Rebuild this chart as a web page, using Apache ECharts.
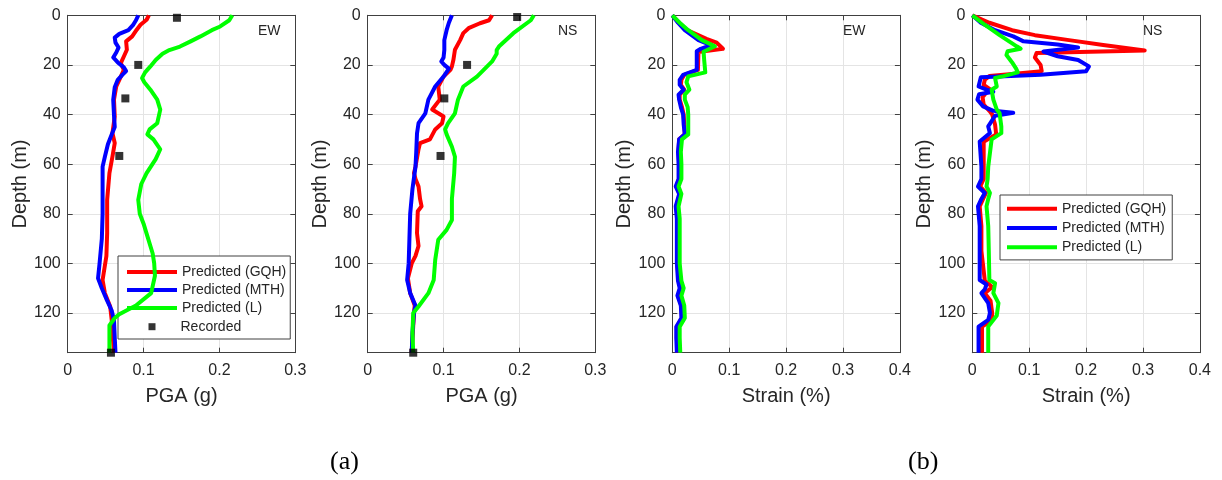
<!DOCTYPE html>
<html>
<head>
<meta charset="utf-8">
<script src="https://cdn.jsdelivr.net/npm/echarts@6/dist/echarts.min.js"></script>
<style>
  html, body { margin: 0; padding: 0; background: #fff; }
  #chart { width: 1222px; height: 480px; }
</style>
</head>
<body>
<div id="chart"></div>
<script>
// Depth profiles: each point is [value, depth (m)]

// PGA (g), EW component
const ewPgaGQH = [[0.107,0],[0.104,1.8],[0.096,3.8],[0.091,5.8],[0.085,8.5],[0.077,10.5],[0.078,13.9],[0.074,16.6],[0.070,19.3],[0.074,22],[0.070,24.7],[0.064,28.7],[0.061,34],[0.062,40.8],[0.059,47.5],[0.062,51.5],[0.059,56.9],[0.055,63.6],[0.052,74.4],[0.052,87.8],[0.051,97],[0.046,106.7],[0.049,112],[0.056,117.4],[0.058,122.8],[0.059,128],[0.061,136]];
const ewPgaMTH = [[0.093,0],[0.090,2],[0.086,4],[0.080,6],[0.068,7.5],[0.062,9],[0.063,11],[0.067,13],[0.064,15],[0.060,17],[0.066,19],[0.074,21],[0.077,22.5],[0.072,24],[0.066,26],[0.062,29],[0.060,34],[0.061,40],[0.062,45],[0.058,48],[0.053,52],[0.049,57],[0.046,61],[0.046,70],[0.046,80],[0.045,90],[0.042,100],[0.040,106],[0.045,110],[0.052,115],[0.058,119],[0.061,123],[0.062,130],[0.063,136]];
const ewPgaL = [[0.217,0],[0.213,2],[0.201,4.5],[0.190,6],[0.175,8.5],[0.162,10.5],[0.148,12.6],[0.134,14],[0.125,15.5],[0.116,18],[0.109,20.6],[0.102,23],[0.098,25.3],[0.101,27],[0.109,30],[0.118,34],[0.122,38],[0.118,43.5],[0.108,46],[0.105,48],[0.113,50],[0.122,54],[0.116,58],[0.104,63.6],[0.097,68],[0.093,74.4],[0.095,80],[0.100,84],[0.104,88],[0.112,96],[0.114,100],[0.115,105],[0.110,112],[0.090,117],[0.068,120.5],[0.062,122],[0.055,125],[0.055,136]];
const ewPgaRec = [[0.144,1],[0.093,20],[0.076,33.5],[0.068,56.7],[0.057,136]];

// PGA (g), NS component
const nsPgaGQH = [[0.164,0],[0.160,2],[0.148,3.2],[0.133,5.2],[0.126,7.2],[0.122,9.9],[0.115,13.9],[0.113,17.9],[0.111,20.6],[0.109,22],[0.100,24.7],[0.093,28.7],[0.095,34],[0.085,38],[0.100,40.8],[0.098,43.5],[0.089,46],[0.082,50],[0.069,51.5],[0.067,54],[0.063,61],[0.061,63.6],[0.063,66],[0.067,69],[0.069,74],[0.071,77],[0.066,79],[0.065,87.8],[0.067,93],[0.063,97],[0.058,100],[0.053,106],[0.056,112],[0.062,117],[0.061,120],[0.058,136]];
const nsPgaMTH = [[0.111,0],[0.107,3],[0.104,6],[0.101,10],[0.101,14],[0.100,17],[0.097,18.6],[0.101,20],[0.107,21.5],[0.100,24.7],[0.089,28.7],[0.080,34],[0.076,39.5],[0.067,43.5],[0.065,47.6],[0.064,55],[0.063,61],[0.059,70],[0.056,80],[0.055,90],[0.054,100],[0.052,106.7],[0.056,112],[0.063,117],[0.061,120],[0.059,128],[0.058,136]];
const nsPgaL = [[0.219,0],[0.215,2],[0.192,7.2],[0.173,12.6],[0.170,14],[0.170,15.5],[0.164,18.6],[0.144,24.7],[0.126,28.7],[0.119,34],[0.115,39.5],[0.106,43.5],[0.102,46],[0.104,48],[0.111,53],[0.115,57],[0.114,63.6],[0.111,74],[0.111,82.5],[0.104,86.5],[0.093,90.5],[0.089,98.6],[0.087,106.7],[0.080,112],[0.067,117.4],[0.060,120],[0.059,128],[0.060,136]];
const nsPgaRec = [[0.197,0.7],[0.131,20],[0.101,33.5],[0.096,56.7],[0.060,136]];

// Strain (%), EW component
const ewStrGQH = [[0,0],[0.012,3],[0.026,6],[0.060,9.5],[0.078,11],[0.089,13.5],[0.046,14.8],[0.045,22],[0.021,24],[0.016,26],[0.015,28],[0.021,30],[0.013,32],[0.013,34],[0.017,37],[0.020,40],[0.021,44],[0.022,48],[0.012,50],[0.011,55],[0.012,60],[0.012,66],[0.007,69],[0.013,72],[0.007,77],[0.009,82],[0.009,90],[0.009,100],[0.011,107],[0.016,110],[0.010,113],[0.016,117],[0.017,122],[0.008,125.5],[0.008,130],[0.009,136]];
const ewStrMTH = [[0,0],[0.010,3],[0.022,6],[0.046,10],[0.068,12],[0.050,13.5],[0.043,14.5],[0.043,22],[0.019,24],[0.013,26],[0.013,28],[0.020,30],[0.011,32],[0.012,34],[0.015,37],[0.019,40],[0.020,44],[0.022,48],[0.012,50],[0.010,55],[0.011,60],[0.011,66],[0.006,69],[0.012,72],[0.006,77],[0.008,82],[0.008,90],[0.008,100],[0.010,107],[0.013,110],[0.009,113],[0.015,117],[0.016,122],[0.007,125.5],[0.007,130],[0.008,136]];
const ewStrL = [[0,0],[0.013,3],[0.028,6],[0.052,10],[0.075,12.5],[0.055,14.7],[0.056,18],[0.058,23],[0.028,24.6],[0.025,27],[0.030,30],[0.022,32],[0.022,34],[0.027,37],[0.028,40],[0.028,44],[0.028,48],[0.017,50],[0.015,55],[0.016,60],[0.016,66],[0.011,69],[0.016,72],[0.011,77],[0.013,82],[0.013,90],[0.013,100],[0.016,107],[0.020,110],[0.016,113],[0.021,117],[0.022,122],[0.013,125.5],[0.013,130],[0.014,136]];

// Strain (%), NS component
const nsStrGQH = [[0,0],[0.030,3],[0.070,6],[0.110,8],[0.170,10],[0.230,12],[0.303,14.2],[0.113,15.2],[0.110,17],[0.120,20],[0.122,22.5],[0.080,23.5],[0.030,24.5],[0.022,26],[0.020,28],[0.032,30],[0.025,31],[0.018,33],[0.020,36],[0.030,38.5],[0.035,40],[0.040,44],[0.042,48],[0.020,51],[0.020,61],[0.020,66],[0.014,69],[0.024,71.6],[0.019,74],[0.013,77],[0.016,85],[0.016,95],[0.022,107],[0.035,109.5],[0.022,112],[0.032,115],[0.035,120],[0.034,123],[0.017,125.5],[0.017,136]];
const nsStrMTH = [[0,0],[0.015,3],[0.040,6],[0.072,8.5],[0.090,10.5],[0.150,11.8],[0.186,13],[0.125,14.6],[0.150,16.5],[0.186,18],[0.205,20.6],[0.200,22.6],[0.120,24],[0.015,25],[0.011,28.7],[0.025,30],[0.037,30.8],[0.012,31.8],[0.009,34],[0.019,36.7],[0.037,38.5],[0.072,39.3],[0.040,40.5],[0.028,44.8],[0.031,47.5],[0.013,50.9],[0.016,61],[0.016,66],[0.010,69],[0.022,71.6],[0.016,74],[0.010,77],[0.013,85],[0.013,95],[0.013,106.7],[0.025,108.5],[0.022,110.5],[0.016,112],[0.028,116],[0.031,120],[0.028,122.8],[0.011,125.5],[0.011,136]];
const nsStrL = [[0,0],[0.023,4],[0.048,8],[0.078,12.5],[0.085,13.5],[0.062,14.5],[0.060,16],[0.070,19],[0.077,21.5],[0.080,23],[0.055,24.5],[0.040,25.3],[0.043,28.7],[0.034,30],[0.037,34],[0.043,38],[0.048,39.5],[0.051,44.8],[0.051,47.5],[0.034,50],[0.028,61],[0.027,66],[0.025,69],[0.031,71.6],[0.028,74],[0.025,77],[0.028,85],[0.029,95],[0.030,106.7],[0.040,108],[0.037,112],[0.046,116],[0.043,121],[0.028,125.5],[0.028,136]];

const depthTicks = [0, 136, 20];          // min, max, interval
const pgaTicks = [0, 0.3, 0.1];
const strainTicks = [0, 0.4, 0.1];
const seriesNames = ['Predicted (GQH)', 'Predicted (MTH)', 'Predicted (L)', 'Recorded'];
const seriesColors = ['#ff0000', '#0000ff', '#00ff00', '#000000'];
const panelTags = ['EW', 'NS', 'EW', 'NS'];
const captions = ['(a)', '(b)'];

const FONT = 'Liberation Sans, Arial, sans-serif';
const AXIS = '#404040';
const TXT = '#262626';
const GRIDC = '#e4e4e4';

const panels = [
  { left: 67.7, ticks: pgaTicks, xName: 'PGA (g)', lines: [ewPgaGQH, ewPgaMTH, ewPgaL], rec: ewPgaRec },
  { left: 367.7, ticks: pgaTicks, xName: 'PGA (g)', lines: [nsPgaGQH, nsPgaMTH, nsPgaL], rec: nsPgaRec },
  { left: 672.3, ticks: strainTicks, xName: 'Strain (%)', lines: [ewStrGQH, ewStrMTH, ewStrL] },
  { left: 972.3, ticks: strainTicks, xName: 'Strain (%)', lines: [nsStrGQH, nsStrMTH, nsStrL] }
];
const plotW = 227.6, plotTop = 15.3, plotBottom = 352.7;

const grid = [], xAxis = [], yAxis = [], series = [];
panels.forEach((p, i) => {
  grid.push({ left: p.left, top: plotTop, width: plotW, height: plotBottom - plotTop, containLabel: false });
  const tickInside = { show: true, inside: true, length: 5, lineStyle: { color: AXIS, width: 1 } };
  const line = { show: true, onZero: false, lineStyle: { color: AXIS, width: 1 } };
  // bottom x axis
  xAxis.push({
    gridIndex: i, type: 'value', position: 'bottom',
    min: p.ticks[0], max: p.ticks[1], interval: p.ticks[2],
    axisLine: line, axisTick: tickInside,
    axisLabel: { fontSize: 16, color: TXT, fontFamily: FONT, margin: 10 },
    splitLine: { show: true, lineStyle: { color: GRIDC, width: 1 } },
    name: p.xName, nameLocation: 'middle', nameGap: 34,
    nameTextStyle: { fontSize: 20, color: TXT, fontFamily: FONT }
  });
  // top x axis (box edge)
  xAxis.push({
    gridIndex: i, type: 'value', position: 'top',
    min: p.ticks[0], max: p.ticks[1], interval: p.ticks[2],
    axisLine: line, axisTick: tickInside,
    axisLabel: { show: false }, splitLine: { show: false }
  });
  // left y axis
  yAxis.push({
    gridIndex: i, type: 'value', position: 'left', inverse: true,
    min: depthTicks[0], max: depthTicks[1], interval: depthTicks[2],
    axisLine: line, axisTick: tickInside,
    axisLabel: { fontSize: 16, color: TXT, fontFamily: FONT, margin: 7, showMaxLabel: false },
    splitLine: { show: true, lineStyle: { color: GRIDC, width: 1 } },
    name: 'Depth (m)', nameLocation: 'middle', nameGap: 37, nameRotate: 90,
    nameTextStyle: { fontSize: 20, color: TXT, fontFamily: FONT }
  });
  // right y axis (box edge)
  yAxis.push({
    gridIndex: i, type: 'value', position: 'right', inverse: true,
    min: depthTicks[0], max: depthTicks[1], interval: depthTicks[2],
    axisLine: line, axisTick: tickInside,
    axisLabel: { show: false }, splitLine: { show: false }
  });
  p.lines.forEach((d, k) => {
    series.push({
      name: seriesNames[k], type: 'line', data: d,
      xAxisIndex: 2 * i, yAxisIndex: 2 * i,
      showSymbol: false, symbol: 'none', silent: true,
      lineStyle: { color: seriesColors[k], width: 4, join: 'round' },
      itemStyle: { color: seriesColors[k] },
      z: 2 + k
    });
  });
  if (p.rec) {
    series.push({
      name: seriesNames[3], type: 'scatter', data: p.rec,
      xAxisIndex: 2 * i, yAxisIndex: 2 * i,
      symbol: 'rect', symbolSize: 8, silent: true,
      itemStyle: { color: seriesColors[3] }, z: 6
    });
  }
});

const legendText = { fontSize: 14, color: TXT, fontFamily: FONT, lineHeight: 18 };
const lineLegendData = seriesNames.slice(0, 3).map(n => ({ name: n, icon: 'rect' }));

const legend = [
  {
    left: 118, top: 256, orient: 'vertical', selectedMode: false,
    itemWidth: 50, itemHeight: 4, itemGap: 0, padding: [7, 4, 22, 9],
    backgroundColor: '#fff', borderColor: AXIS, borderWidth: 1,
    textStyle: legendText, data: lineLegendData
  },
  {
    left: 148.5, top: 317.7, orient: 'vertical', selectedMode: false,
    itemWidth: 7, itemHeight: 7, itemGap: 0, padding: 0,
    textStyle: Object.assign({}, legendText, { padding: [0, 0, 0, 20] }),
    data: [{ name: seriesNames[3], icon: 'rect' }]
  },
  {
    left: 1000, top: 195, orient: 'vertical', selectedMode: false,
    itemWidth: 50, itemHeight: 4, itemGap: 0, padding: [4, 6, 3, 7],
    backgroundColor: '#fff', borderColor: AXIS, borderWidth: 1,
    textStyle: Object.assign({}, legendText, { lineHeight: 19.3 }), data: lineLegendData
  }
];

const tagX = [258, 558, 843, 1143];
const graphic = panelTags.map((t, i) => ({
  type: 'text', left: tagX[i], top: 24, silent: true,
  style: { text: t, fontSize: 14, fill: TXT, fontFamily: FONT }
})).concat([
  { type: 'text', left: 330, top: 449, silent: true,
    style: { text: captions[0], fontSize: 26, fill: '#000', fontFamily: 'Liberation Serif, Times New Roman, serif' } },
  { type: 'text', left: 908, top: 449, silent: true,
    style: { text: captions[1], fontSize: 26, fill: '#000', fontFamily: 'Liberation Serif, Times New Roman, serif' } }
]);

const chart = echarts.init(document.getElementById('chart'), null, { renderer: 'canvas' });
chart.setOption({
  animation: false,
  backgroundColor: '#fff',
  textStyle: { fontFamily: FONT },
  grid, xAxis, yAxis, series, legend, graphic
});
</script>
</body>
</html>
